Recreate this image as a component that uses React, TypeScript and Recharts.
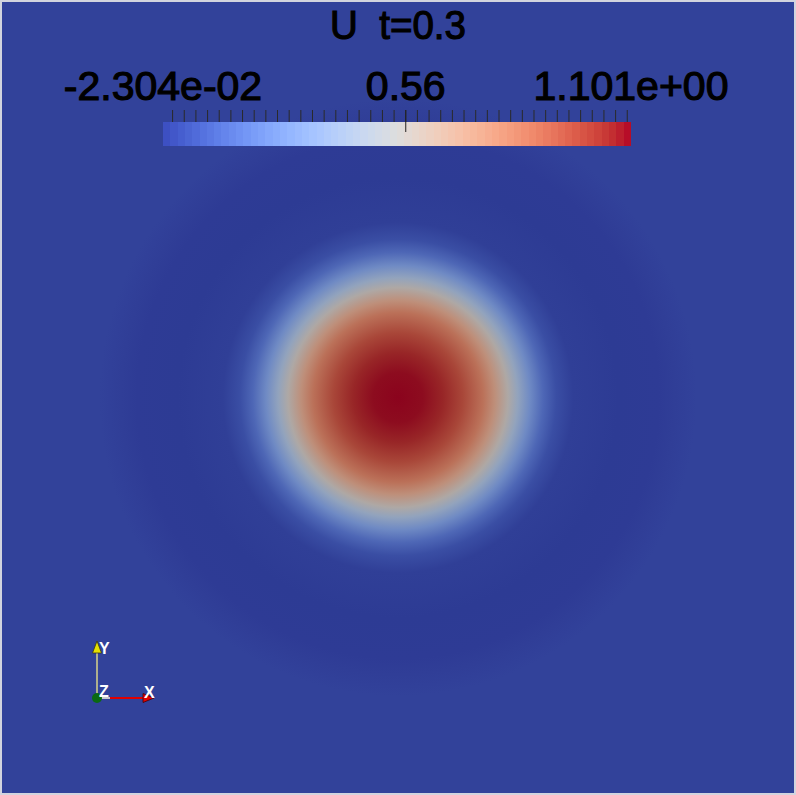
import { Bar, BarChart, Cell, Pie, PieChart, XAxis, YAxis } from 'recharts'

const U_MIN = -0.02304
const U_MAX = 1.101
const U_MID = 0.56

// radial profile of U (r in view units, 1 = half the view)
const radius = [0, 0.063, 0.114, 0.164, 0.215, 0.245, 0.278, 0.303, 0.334, 0.367, 0.4, 0.443, 0.557, 0.66, 0.7, 0.73, 0.755]
const uValue = [1.101, 1.09, 1.05, 0.97, 0.84, 0.72, 0.56, 0.42, 0.27, 0.13, 0.04, -0.01, -0.023, -0.02, -0.012, -0.004, 0]

const cbLabelValues = [U_MIN, U_MID, U_MAX]
const cbLabels = ['-2.304e-02', '0.56', '1.101e+00']
// minor ticks every 0.028 from 0 to 1.092
const cbTicks = Array.from({ length: 40 }, (_, k) => Number((k * 0.028).toFixed(3)))

const R_MAX = radius[radius.length - 1]
const SHADE = 0.77
const FONT = '"Liberation Sans", Arial, sans-serif'

// ParaView "Cool to Warm"
const COOLWARM = [
  [59, 76, 192], [68, 90, 204], [77, 104, 215], [87, 117, 225], [98, 130, 234], [108, 142, 241],
  [119, 154, 247], [130, 165, 251], [141, 176, 254], [152, 185, 255], [163, 194, 255], [174, 201, 253],
  [184, 208, 249], [194, 213, 244], [204, 217, 238], [213, 219, 230], [221, 221, 221], [229, 216, 209],
  [236, 211, 197], [241, 204, 185], [245, 196, 173], [247, 187, 160], [247, 177, 148], [247, 166, 135],
  [244, 154, 123], [241, 141, 111], [236, 127, 99], [229, 112, 89], [222, 96, 77], [213, 80, 66],
  [203, 62, 56], [192, 40, 47], [180, 4, 38],
]

function coolwarm(t: number, k = 1) {
  const c = Math.min(1, Math.max(0, t)) * (COOLWARM.length - 1)
  const i = Math.min(COOLWARM.length - 2, Math.floor(c))
  const f = c - i
  const rgb = COOLWARM[i].map((v, j) => Math.round((v + (COOLWARM[i + 1][j] - v) * f) * k))
  return `rgb(${rgb.join(',')})`
}

const norm = (u: number) => (u - U_MIN) / (U_MAX - U_MIN)
const fieldColor = (u: number) => coolwarm(norm(u), SHADE)

const blob = [{ name: 'U', value: 1 }]
const bar = [{ name: 'U', range: [U_MIN, U_MAX] }]

function CbLabel({ x, y, payload }: { x?: number; y?: number; payload?: { value: number } }) {
  if (x == null || y == null || !payload) return null
  const i = cbLabelValues.findIndex((v) => Math.abs(v - payload.value) < 1e-6)
  if (i < 0) return null
  return (
    <g>
      <text x={x} y={y} textAnchor="middle" fontFamily={FONT} fontSize={41} fill="#000" stroke="#000" strokeWidth={1.2}>
        {cbLabels[i]}
      </text>
      {i === 1 && <line x1={x} x2={x} y1={y + 10} y2={y + 32} stroke="#222" />}
    </g>
  )
}

function Triad() {
  return (
    <g fontFamily={FONT} fontSize={16} fontWeight="bold" fill="#fff">
      <line x1={97} y1={698} x2={97} y2={652} stroke="#d8d48a" strokeWidth={1.5} />
      <polygon points="92.5,653 101.5,653 97,641" fill="#e6e000" stroke="#3a3a10" strokeWidth={0.8} />
      <line x1={101} y1={698} x2={110} y2={698} stroke="#c8c8d0" strokeWidth={2} />
      <line x1={110} y1={698} x2={143} y2={698} stroke="#e00000" strokeWidth={2} />
      <polygon points="143,693.5 143,702.5 154,698" fill="#e40000" stroke="#400" strokeWidth={0.8} />
      <circle cx={97} cy={698} r={5} fill="#0b6a12" />
      <text x={99} y={654}>Y</text>
      <text x={99} y={697}>Z</text>
      <text x={144} y={698}>X</text>
    </g>
  )
}

export default function App() {
  return (
    <div style={{ position: 'relative', width: 796, height: 795, background: '#d2d4de', overflow: 'hidden' }}>
      <style>{'body{margin:0}'}</style>
      <div style={{ position: 'absolute', left: 2, top: 2, width: 792, height: 791, background: fieldColor(0) }}>
        <PieChart width={792} height={791} margin={{ top: 0, right: 0, bottom: 0, left: 0 }}>
          <defs>
            <radialGradient id="uField" cx="50%" cy="50%" r="50%">
              {radius.map((r, i) => (
                <stop key={r} offset={r / R_MAX} stopColor={fieldColor(uValue[i])} />
              ))}
            </radialGradient>
          </defs>
          <Pie
            data={blob}
            dataKey="value"
            cx="50%"
            cy="50%"
            innerRadius={0}
            outerRadius={`${R_MAX * 100}%`}
            startAngle={90}
            endAngle={450}
            stroke="none"
            isAnimationActive={false}
          >
            <Cell fill="url(#uField)" />
          </Pie>
        </PieChart>
      </div>

      <div style={{ position: 'absolute', left: 0, top: 0 }}>
        <BarChart
          width={796}
          height={146}
          data={bar}
          layout="vertical"
          margin={{ top: 50, right: 165, bottom: 0, left: 163 }}
          barCategoryGap={0}
        >
          <defs>
            <linearGradient id="cbar" x1="0" y1="0" x2="1" y2="0">
              {Array.from({ length: 64 }, (_, i) => [
                <stop key={`a${i}`} offset={i / 64} stopColor={coolwarm((i + 0.5) / 64)} />,
                <stop key={`b${i}`} offset={(i + 1) / 64} stopColor={coolwarm((i + 0.5) / 64)} />,
              ])}
            </linearGradient>
          </defs>
          <XAxis
            xAxisId="b_labels"
            type="number"
            orientation="top"
            domain={[U_MIN, U_MAX]}
            allowDataOverflow
            ticks={cbLabelValues}
            interval={0}
            tick={<CbLabel />}
            tickLine={false}
            tickSize={0}
            tickMargin={10}
            axisLine={false}
            height={60}
          />
          <XAxis
            xAxisId="a_ticks"
            type="number"
            orientation="top"
            domain={[U_MIN, U_MAX]}
            allowDataOverflow
            ticks={cbTicks}
            interval={0}
            tick={() => <g />}
            tickSize={12}
            tickLine={{ stroke: '#2a2a2a' }}
            stroke="#2a2a2a"
            axisLine={false}
            height={12}
          />
          <YAxis type="category" dataKey="name" hide />
          <Bar dataKey="range" xAxisId="a_ticks" fill="url(#cbar)" isAnimationActive={false} />
        </BarChart>
      </div>

      <svg width={796} height={795} style={{ position: 'absolute', left: 0, top: 0, pointerEvents: 'none' }}>
        <text
          x={398}
          y={39}
          textAnchor="middle"
          fontFamily={FONT}
          fontSize={41}
          fill="#000"
          stroke="#000"
          strokeWidth={1.2}
          textLength={136}
          lengthAdjust="spacingAndGlyphs"
          style={{ whiteSpace: 'pre' }}
        >
          {'U  t=0.3'}
        </text>
        <Triad />
      </svg>
    </div>
  )
}
